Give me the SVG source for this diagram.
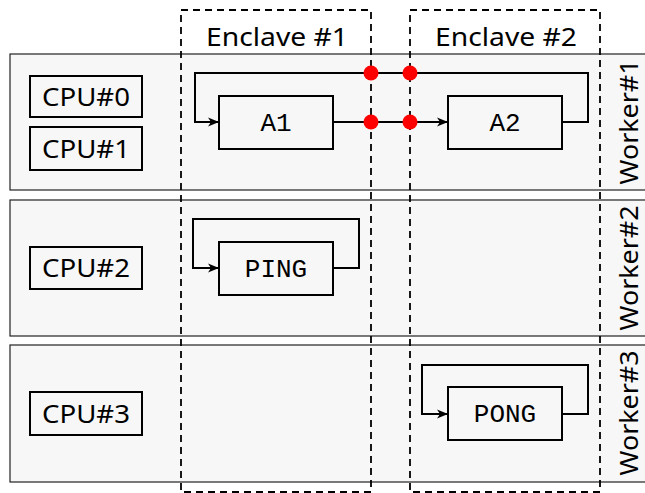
<svg xmlns="http://www.w3.org/2000/svg" width="645" height="493" viewBox="0 0 645 493">
<style>
.band{fill:#f7f7f7;stroke:#222;stroke-width:1.2}
.box{fill:#f7f7f7;stroke:#000;stroke-width:2}
.cpu{font-family:"Noto Sans",sans-serif;font-size:25px;fill:#000;text-anchor:middle}
.mono{font-family:"Liberation Mono",monospace;font-size:26px;fill:#000;text-anchor:middle}
.lbl{font-family:"Noto Sans",sans-serif;font-size:25px;fill:#000;text-anchor:middle}
.encl{fill:none;stroke:#000;stroke-width:1.8;stroke-dasharray:7,5}
.wire{fill:none;stroke:#000;stroke-width:2}
.dot{fill:#ff0000}
</style>
<defs>
<marker id="arr" markerWidth="12" markerHeight="10" refX="11" refY="5" orient="auto" markerUnits="userSpaceOnUse">
<path d="M0,0.5 L11,5 L0,9.5 L3,5 Z" fill="#000"/>
</marker>
</defs>
<g id="worker1">
<rect class="band" x="10" y="54" width="645" height="136"/>
<text class="lbl" transform="translate(638,122) rotate(-90)" textLength="125" lengthAdjust="spacingAndGlyphs">Worker#1</text>
</g>
<g id="worker2">
<rect class="band" x="10" y="200" width="645" height="136"/>
<text class="lbl" transform="translate(638,268) rotate(-90)" textLength="125" lengthAdjust="spacingAndGlyphs">Worker#2</text>
</g>
<g id="worker3">
<rect class="band" x="10" y="345" width="645" height="137"/>
<text class="lbl" transform="translate(638,413) rotate(-90)" textLength="125" lengthAdjust="spacingAndGlyphs">Worker#3</text>
</g>
<g id="cpu0"><rect class="box" x="30" y="76" width="112" height="41"/><text class="cpu" x="86" y="106" textLength="88" lengthAdjust="spacingAndGlyphs">CPU#0</text></g>
<g id="cpu1"><rect class="box" x="30" y="127" width="112" height="43"/><text class="cpu" x="86" y="158" textLength="88" lengthAdjust="spacingAndGlyphs">CPU#1</text></g>
<g id="cpu2"><rect class="box" x="30" y="247" width="112" height="42"/><text class="cpu" x="86" y="277" textLength="88" lengthAdjust="spacingAndGlyphs">CPU#2</text></g>
<g id="cpu3"><rect class="box" x="30" y="392" width="112" height="43"/><text class="cpu" x="86" y="423" textLength="88" lengthAdjust="spacingAndGlyphs">CPU#3</text></g>
<g id="a1"><rect class="box" x="219" y="96" width="114" height="53"/><text class="mono" x="276" y="131">A1</text></g>
<g id="a2"><rect class="box" x="448" y="96" width="114" height="53"/><text class="mono" x="505" y="131">A2</text></g>
<g id="ping"><rect class="box" x="219" y="242" width="114" height="53"/><text class="mono" x="276" y="277">PING</text></g>
<g id="pong"><rect class="box" x="448" y="387" width="114" height="53"/><text class="mono" x="505" y="422">PONG</text></g>
<g id="connectors">
<path class="wire" d="M562,122 H588 V73 H195 V122 H219" marker-end="url(#arr)"/>
<path class="wire" d="M333,122 H448" marker-end="url(#arr)"/>
<path class="wire" d="M333,268 H359 V219 H193 V268 H219" marker-end="url(#arr)"/>
<path class="wire" d="M562,414 H588 V365 H422 V414 H448" marker-end="url(#arr)"/>
</g>
<g id="enclave1">
<rect class="encl" x="181" y="10" width="190" height="482"/>
<text class="lbl" x="277" y="46" textLength="142" lengthAdjust="spacingAndGlyphs">Enclave #1</text>
</g>
<g id="enclave2">
<rect class="encl" x="410" y="10" width="190" height="482"/>
<text class="lbl" x="506" y="46" textLength="142" lengthAdjust="spacingAndGlyphs">Enclave #2</text>
</g>
<g id="dots">
<circle class="dot" cx="371" cy="73" r="7.5"/>
<circle class="dot" cx="410" cy="73" r="7.5"/>
<circle class="dot" cx="371" cy="122" r="7.5"/>
<circle class="dot" cx="410" cy="122" r="7.5"/>
</g>
</svg>
